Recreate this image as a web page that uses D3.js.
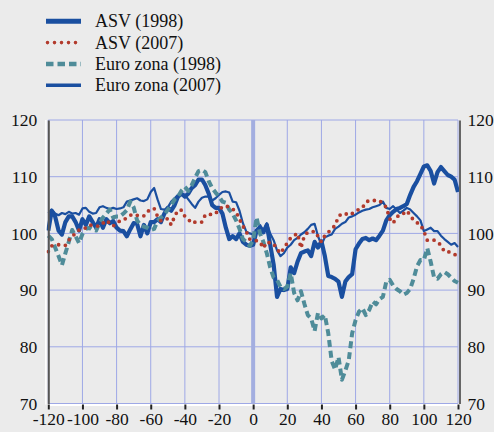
<!DOCTYPE html>
<html>
<head>
<meta charset="utf-8">
<script src="https://cdn.jsdelivr.net/npm/d3@7"></script>
<style>
  body { margin: 0; background: #ebebeb; }
  svg { display: block; }
</style>
</head>
<body>
<svg width="494" height="432"></svg>
<script>
// weeks around the start of the crisis
var weeks = d3.range(-120, 121, 2);

var asv1998 = [
  100.5, 104, 103, 100.5, 99.8, 102, 103, 103, 102, 100.5,
  102.5, 101.5, 103, 102, 101, 102.5, 101, 102.5, 101.8, 102.2,
  101, 100.5, 100.4, 99.5, 100.7, 101.8, 101.7, 99.5, 101.5, 100,
  102, 102, 102.5, 102, 103.5, 104.5, 104, 105, 106.5, 107,
  106.5, 107, 108, 108.5, 109.5, 109.5, 108.5, 107, 105, 104.5,
  104.5, 103.5, 101, 99, 99.5, 99, 100, 98.5, 98, 97.8,
  98,
  100.5, 101, 100.2, 101.5, 98, 94.5, 88.8, 90.2, 90, 90.2,
  94, 93, 95, 96.5, 96.8, 97, 96, 98.5, 97.5, 98.6,
  96, 92.5, 92.3, 92, 91.5, 88.8, 91.5, 92.3, 92.8, 97.2,
  98.2, 99, 99.2, 98.8, 99.1, 98.8, 99.6, 100.5, 102.3, 103.2,
  103.8, 104.3, 104.5, 104.8, 105.2, 106.8, 108.2, 109.2, 110.5, 111.8,
  112, 111, 108.8, 110.8, 111.7, 111, 110.3, 110, 109.5, 107.3
];

var asv2007 = [
  96.8, 97.8, 97.9, 98, 97.9, 97.9, 98.8, 99.5, 100, 100.6,
  100.7, 101, 101.5, 101.4, 101.3, 101.3, 101.8, 102.3, 101.8, 101.3,
  101.8, 102.2, 102.3, 102.8, 103.2, 103.4, 103.2, 103, 103.1, 103.8,
  104.3, 104.4, 103, 102.2, 102.4, 102.6, 101.5, 103, 104.1, 104.1,
  103, 102.5, 101.8, 102, 102, 102, 103.3, 103.4, 103.3, 103.5,
  104.3, 104.6, 104.9, 104.6, 104.3, 103.8, 102.5, 101.3, 100.3, 99,
  98.9,
  98.7, 98.5, 97.4, 98.5, 98.3, 98.2, 97.2, 96.5, 97.4, 98.3,
  99.2, 99.6, 100, 97.4, 99.6, 100.2, 100.2, 100.4, 99.5, 98.5,
  99.6, 100.2, 100.8, 101.4, 103, 103.5, 103.5, 103.2, 103.5, 103.8,
  104.3, 104.5, 105.5, 105.8, 105.8, 105.8, 105.8, 105.2, 104.6, 102.6,
  101.8, 102.8, 103.4, 103.5, 104, 103.2, 102.3, 101.9, 101.5, 100.4,
  98.8, 98.8, 98.8, 98.5, 97.9, 96.8, 96.8, 96.6, 96.3, 95.9
];

var euro1998 = [
  99.6, 99, 97.5, 96, 94.4, 96.5, 98.5, 100.6, 99.5, 98.3,
  99.9, 100.8, 101, 100.6, 100.5, 101.8, 102.8, 103.5, 104.2, 102.8,
  103, 103, 103.5, 104.1, 105.6, 104.6, 102.3, 101.5, 101.2, 101,
  100.6, 100.8, 102.2, 102.8, 103.3, 104.2, 105, 106, 106.5, 107.5,
  108.2, 107.5, 108.5, 109.8, 111, 111.2, 110.8, 109.2, 108, 107.2,
  106.5, 105.6, 105.4, 104.2, 103.5, 102.3, 100.8, 99, 98.5, 97.8,
  98.8,
  102.8, 100, 98.5, 96.5, 94, 92.2, 91.8, 90.6, 90.2, 90.6,
  93, 89.5, 88.2, 89.8, 87.6, 85.6, 85, 82.8, 86, 85,
  85.6, 82.4, 77.5, 76, 78.2, 74.2, 75.8, 77.6, 82.4, 84.7,
  86.2, 86.8, 85.6, 86.5, 88, 87.5, 88.4, 88.8, 91.5, 91.8,
  90.8, 90.2, 89.8, 89.2, 89.5, 90.2, 92, 94.2, 95.3, 95.3,
  97.4, 95, 92.2, 92, 92.8, 93.2, 92.8, 92.2, 91.6, 91.3
];

var euro2007 = [
  103.6, 104.2, 103.5, 103.2, 103.6, 103.4, 103.8, 103.5, 103.6, 103.3,
  104.4, 104.5, 103.8, 103.5, 103.6, 104.6, 104.8, 104.5, 104.3, 104.5,
  104.3, 104.4, 104.6, 105.6, 105.8, 106, 106.2, 105.8, 105.7, 106,
  107.3, 108, 106, 104.3, 104.2, 104.6, 105.6, 106.2, 106.8, 106.9,
  106.8, 106, 105.2, 104.5, 105.6, 106.3, 106.5, 106.5, 105.8, 106.2,
  106.8, 107.3, 107.4, 107.2, 105.6, 105.5, 104, 101.8, 100.3, 100,
  99.8,
  100.5, 101.5, 100.5, 101.8, 100, 98.8, 97, 96, 96.5, 97.5,
  98, 98.8, 99.2, 99.8, 100.2, 100.8, 101.5, 101.7, 99.5, 98,
  99.3, 99.6, 99.8, 100.8, 101.2, 101.7, 102, 102.8, 103, 103.3,
  103.7, 104, 104.2, 104.3, 104.6, 104.8, 105, 105.6, 104.5, 104.3,
  104.8, 104.2, 103.6, 104, 104.5, 104.2, 103.6, 103, 102.3, 100.4,
  100.7, 101, 100.4, 100.4, 99.6, 99, 98.5, 98, 98.3, 97.6
];

var seriesNames = ["ASV (1998)", "ASV (2007)", "Euro zona (1998)", "Euro zona (2007)"];
var yTicks = [70, 80, 90, 100, 110, 120];
var xTicks = [-120, -100, -80, -60, -40, -20, 0, 20, 40, 60, 80, 100, 120];

var blue = "#1a4fa0", red = "#b23a2c", teal = "#4f8c99", grid = "#9ea8e6";
var serif = "'Liberation Serif', 'Times New Roman', serif";

var svg = d3.select("svg");

var x = d3.scaleLinear().domain([-120, 120]).range([48.3, 458]);
var y = d3.scaleLinear().domain([70, 120]).range([403.5, 120]);

// grid
svg.append("g").selectAll("line")
  .data(yTicks)
  .enter().append("line")
  .attr("x1", x(-120)).attr("x2", x(120))
  .attr("y1", function(d) { return y(d); })
  .attr("y2", function(d) { return y(d); })
  .attr("stroke", grid).attr("stroke-width", 1);

svg.append("g").selectAll("line")
  .data(xTicks)
  .enter().append("line")
  .attr("x1", function(d) { return x(d); })
  .attr("x2", function(d) { return x(d); })
  .attr("y1", y(120)).attr("y2", y(70))
  .attr("stroke", grid).attr("stroke-width", 1);

// marker at week zero
svg.append("line")
  .attr("x1", x(0)).attr("x2", x(0))
  .attr("y1", y(120)).attr("y2", y(70))
  .attr("stroke", "#a3aee0").attr("stroke-width", 4);

// series
var styles = [
  { data: asv1998, color: blue, width: 4.2, dash: null, cap: "butt" },
  { data: euro2007, color: blue, width: 2.2, dash: null, cap: "butt" },
  { data: euro1998, color: teal, width: 4, dash: "7,4", cap: "butt" },
  { data: asv2007, color: red, width: 3.8, dash: "0,6.8", cap: "round" }
];

var line = d3.line()
  .x(function(d, i) { return x(weeks[i]); })
  .y(function(d) { return y(d); });

styles.forEach(function(s) {
  svg.append("path")
    .datum(s.data)
    .attr("fill", "none")
    .attr("stroke", s.color)
    .attr("stroke-width", s.width)
    .attr("stroke-linejoin", "round")
    .attr("stroke-linecap", s.cap)
    .attr("stroke-dasharray", s.dash)
    .attr("d", line);
});

// axes
var plain = function(d) { return String(d); };

var gLeft = svg.append("g")
  .attr("transform", "translate(" + x(-120) + ",0)")
  .call(d3.axisLeft(y).tickValues(yTicks).tickSize(0).tickPadding(11));

var gRight = svg.append("g")
  .attr("transform", "translate(" + (x(120) + 1.5) + ",0)")
  .call(d3.axisRight(y).tickValues(yTicks).tickSize(0).tickPadding(8));

var gBottom = svg.append("g")
  .attr("transform", "translate(0," + (y(70) + 1) + ")")
  .call(d3.axisBottom(x).tickValues(xTicks).tickFormat(plain).tickSize(5).tickPadding(3));

[gLeft, gRight, gBottom].forEach(function(g) {
  g.selectAll("text")
    .attr("font-family", serif)
    .attr("font-size", 17.5)
    .attr("fill", "#111");
});

gLeft.select(".domain").attr("stroke", "#555").attr("stroke-width", 2);
gRight.select(".domain").attr("stroke", "#666").attr("stroke-width", 2);
gBottom.select(".domain").attr("stroke", "#fff").attr("stroke-width", 2);
gBottom.selectAll(".tick line").attr("stroke", "#222").attr("stroke-width", 2);

svg.append("line")
  .attr("x1", x(-120) - 2.5).attr("x2", x(-120) - 2.5)
  .attr("y1", y(120)).attr("y2", y(70) + 1)
  .attr("stroke", "#fff").attr("stroke-width", 1.5);

// legend
var legend = svg.append("g").selectAll("g")
  .data(seriesNames)
  .enter().append("g")
  .attr("transform", function(d, i) { return "translate(46," + (21.3 + i * 21.3) + ")"; });

var legendStyles = [
  { color: blue, width: 5, dash: null, cap: "butt" },
  { color: red, width: 3.6, dash: "0,7", cap: "round" },
  { color: teal, width: 4.5, dash: "7.5,4", cap: "butt" },
  { color: blue, width: 3.5, dash: null, cap: "butt" }
];

legend.append("line")
  .attr("x1", function(d, i) { return i === 1 ? 1.5 : 0; })
  .attr("x2", 35)
  .attr("stroke", function(d, i) { return legendStyles[i].color; })
  .attr("stroke-width", function(d, i) { return legendStyles[i].width; })
  .attr("stroke-dasharray", function(d, i) { return legendStyles[i].dash; })
  .attr("stroke-linecap", function(d, i) { return legendStyles[i].cap; });

legend.append("text")
  .attr("x", 49)
  .attr("dy", "0.34em")
  .attr("font-family", serif)
  .attr("font-size", 18)
  .attr("fill", "#111")
  .text(function(d) { return d; });
</script>
</body>
</html>
